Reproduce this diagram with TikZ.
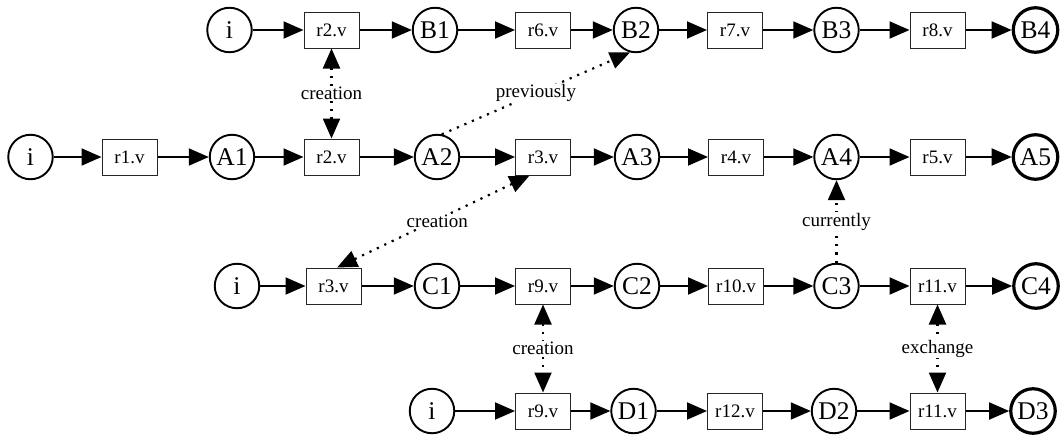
\documentclass[tikz,border=0pt]{standalone}
\usepackage{fontspec}
\setmainfont{Liberation Serif}
\usetikzlibrary{arrows.meta}
\begin{document}
\begin{tikzpicture}[x=1pt,y=-1pt,
  >={Triangle[length=20pt,width=17pt]},
  st/.style={circle, draw, line width=1.9pt, minimum size=44.5pt, inner sep=0pt, font=\fontsize{25.5}{30}\selectfont},
  fin/.style={st, line width=3.2pt},
  rl/.style={rectangle, draw=black!85, line width=1pt, minimum width=55pt, minimum height=36pt, inner sep=0pt, font=\fontsize{19}{23}\selectfont},
  ar/.style={line width=1.9pt, ->},
  dt/.style={line width=2.2pt, dash pattern=on 2.2pt off 6pt},
  lb/.style={fill=white, inner sep=1pt, font=\fontsize{19}{23}\selectfont}
]
\useasboundingbox (0,0) rectangle (1060,439);
% row B
\node[st]  (Bi)  at (229.5,30) {i};
\node[rl]  (Br2) at (331.5,30) {r2.v};
\node[st]  (B1)  at (435,30)   {B1};
\node[rl]  (Br6) at (543,30)   {r6.v};
\node[st]  (B2)  at (636,30)   {B2};
\node[rl]  (Br7) at (735,30)   {r7.v};
\node[st]  (B3)  at (836.5,30) {B3};
\node[rl]  (Br8) at (937.5,30) {r8.v};
\node[fin] (B4)  at (1035.5,30) {B4};
% row A
\node[st]  (Ai)  at (30.5,157)  {i};
\node[rl]  (Ar1) at (129.5,157) {r1.v};
\node[st]  (A1)  at (232,157)   {A1};
\node[rl]  (Ar2) at (331.5,157) {r2.v};
\node[st]  (A2)  at (437,157)   {A2};
\node[rl]  (Ar3) at (543,157)   {r3.v};
\node[st]  (A3)  at (637,157)   {A3};
\node[rl]  (Ar4) at (736,157)   {r4.v};
\node[st]  (A4)  at (836.5,157) {A4};
\node[rl]  (Ar5) at (937.5,157) {r5.v};
\node[fin] (A5)  at (1035.5,157) {A5};
% row C
\node[st]  (Ci)   at (237,286)   {i};
\node[rl]  (Cr3)  at (333.5,286) {r3.v};
\node[st]  (C1)   at (437,286)   {C1};
\node[rl]  (Cr9)  at (543,286)   {r9.v};
\node[st]  (C2)   at (637,286)   {C2};
\node[rl]  (Cr10) at (736,286)   {r10.v};
\node[st]  (C3)   at (836.5,286) {C3};
\node[rl]  (Cr11) at (937.5,286) {r11.v};
\node[fin] (C4)   at (1036,286)  {C4};
% row D
\node[st]  (Di)   at (432,411)   {i};
\node[rl]  (Dr9)  at (543,411)   {r9.v};
\node[st]  (D1)   at (633.5,411) {D1};
\node[rl]  (Dr12) at (735,411)   {r12.v};
\node[st]  (D2)   at (834,411)   {D2};
\node[rl]  (Dr11) at (937.5,411) {r11.v};
\node[fin] (D3)   at (1033,411)  {D3};
% solid edges
\foreach \a/\b in {Bi/Br2,Br2/B1,B1/Br6,Br6/B2,B2/Br7,Br7/B3,B3/Br8,Br8/B4,
  Ai/Ar1,Ar1/A1,A1/Ar2,Ar2/A2,A2/Ar3,Ar3/A3,A3/Ar4,Ar4/A4,A4/Ar5,Ar5/A5,
  Ci/Cr3,Cr3/C1,C1/Cr9,Cr9/C2,C2/Cr10,Cr10/C3,C3/Cr11,Cr11/C4,
  Di/Dr9,Dr9/D1,D1/Dr12,Dr12/D2,D2/Dr11,Dr11/D3}
  \draw[ar] (\a) -- (\b);
% dotted edges
\draw[dt,<->] (Br2) -- node[lb] {creation} (Ar2);
\draw[dt,->] (A2.78) -- node[lb] {previously} (B2.255);
\draw[dt,<->] (Ar3.234) -- node[lb, xshift=4pt] {creation} (Cr3.79);
\draw[dt,->] (C3) -- node[lb] {currently} (A4);
\draw[dt,<->] (Cr9) -- node[lb] {creation} (Dr9);
\draw[dt,<->] (Cr11) -- node[lb] {exchange} (Dr11);
\end{tikzpicture}
\end{document}
